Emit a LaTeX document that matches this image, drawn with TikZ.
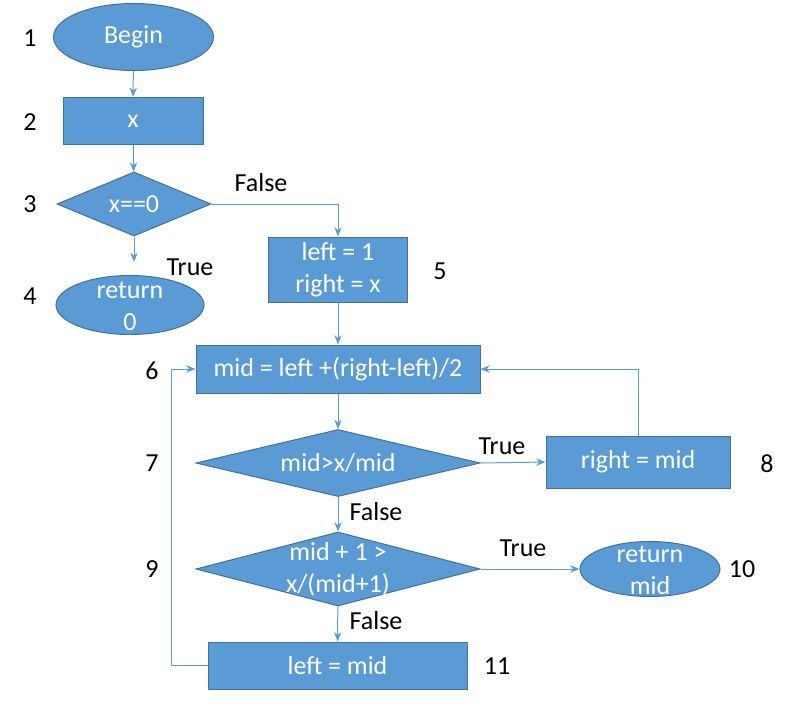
\documentclass[tikz,border=0pt]{standalone}
\usepackage{fontspec}
\setmainfont{Carlito}
\usetikzlibrary{shapes.geometric,arrows.meta}
\definecolor{fillblue}{HTML}{5B9BD5}
\definecolor{edgeblue}{HTML}{41719C}
\begin{document}
\begin{tikzpicture}[x=0.75pt,y=-0.75pt,
  every node/.style={font=\fontsize{19.5}{24}\selectfont},
  blk/.style={draw=edgeblue,fill=fillblue,text=white,line width=0.75pt,inner sep=0pt,align=center},
  boxs/.style={blk,rectangle},
  ell/.style={blk,ellipse},
  dia/.style={blk,diamond},
  inner/.style={text=white,align=center,inner sep=0pt},
  num/.style={text=black,inner sep=0pt},
  lbl/.style={text=black,inner sep=0pt},
  conn/.style={draw=fillblue,line width=0.75pt,-{Stealth[length=7pt,width=5.5pt]}}]
\useasboundingbox (0,0) rectangle (801,707);
\fill[white] (0,0) rectangle (801,707);
% nodes
\node[ell,minimum width=120pt,minimum height=50.25pt] (begin) at (133.5,37) {Begin};
\node[boxs,minimum width=105pt,minimum height=35.25pt] (xb) at (133,121) {x};
\node[dia,minimum width=115.5pt,minimum height=48pt] (d3) at (134,204) {};
\node[inner] (d3t) at (d3.center) {x==0};
\node[ell,minimum width=111pt,minimum height=44.25pt] (r4) at (130,305) {};
\node[inner] (r4t) at (130,306) {return\\0};
\node[boxs,minimum width=104.25pt,minimum height=48.75pt] (b5) at (338,269.5) {left = 1\\right = x};
\node[boxs,minimum width=213pt,minimum height=36pt] (mid) at (338,369) {mid = left +(right-left)/2};
\node[dia,minimum width=213pt,minimum height=50.25pt] (d7) at (338,463) {};
\node[inner] (d7t) at (d7.center) {mid>x/mid};
\node[boxs,minimum width=138pt,minimum height=39pt] (r8) at (638,462) {right = mid};
\node[dia,minimum width=213pt,minimum height=55.5pt] (d9) at (338,569) {};
\node[inner] (d9t) at (338,569) {mid + 1 >\\x/(mid+1)};
\node[ell,minimum width=105pt,minimum height=41.25pt] (r10) at (650,569) {};
\node[inner] (r10t) at (650,570) {return\\mid};
\node[boxs,minimum width=194.25pt,minimum height=35.25pt] (l11) at (337.5,665.5) {left = mid};
% numbers
\node[num] (n1) at (30,38) {1};
\node[num] (n2) at (30,122) {2};
\node[num] (n3) at (30,204) {3};
\node[num] (n4) at (30,296) {4};
\node[num] (n5) at (440,271) {5};
\node[num] (n6) at (152,371) {6};
\node[num] (n7) at (152,463) {7};
\node[num] (n8) at (767,464) {8};
\node[num] (n9) at (152,569) {9};
\node[num] (n10) at (742,569) {10};
\node[num] (n11) at (497,666) {11};
% branch labels
\node[lbl] (f3) at (261,183) {False};
\node[lbl] (t3) at (190,267) {True};
\node[lbl] (t7) at (502,446) {True};
\node[lbl] (f7) at (376,512) {False};
\node[lbl] (t9) at (523,548) {True};
\node[lbl] (f9) at (376,621) {False};
% connectors
\coordinate (e4) at (134,262);
\coordinate (lp) at (171,665.5);
\draw[conn] (begin) -- (xb);
\draw[conn] (xb) -- (d3);
\draw[conn] (d3.south) -- (e4);
\draw[conn] (d3.east) -| (b5.north);
\draw[conn] (b5) -- (mid);
\draw[conn] (mid) -- (d7);
\draw[conn] (d7.east) -- (r8.west);
\draw[conn] (r8.north) |- (mid.east);
\draw[conn] (d7) -- (d9);
\draw[conn] (d9.east) -- (r10.west);
\draw[conn] (d9) -- (l11);
\draw[conn] (l11.west) -- (lp) |- (mid.west);
\end{tikzpicture}
\end{document}
